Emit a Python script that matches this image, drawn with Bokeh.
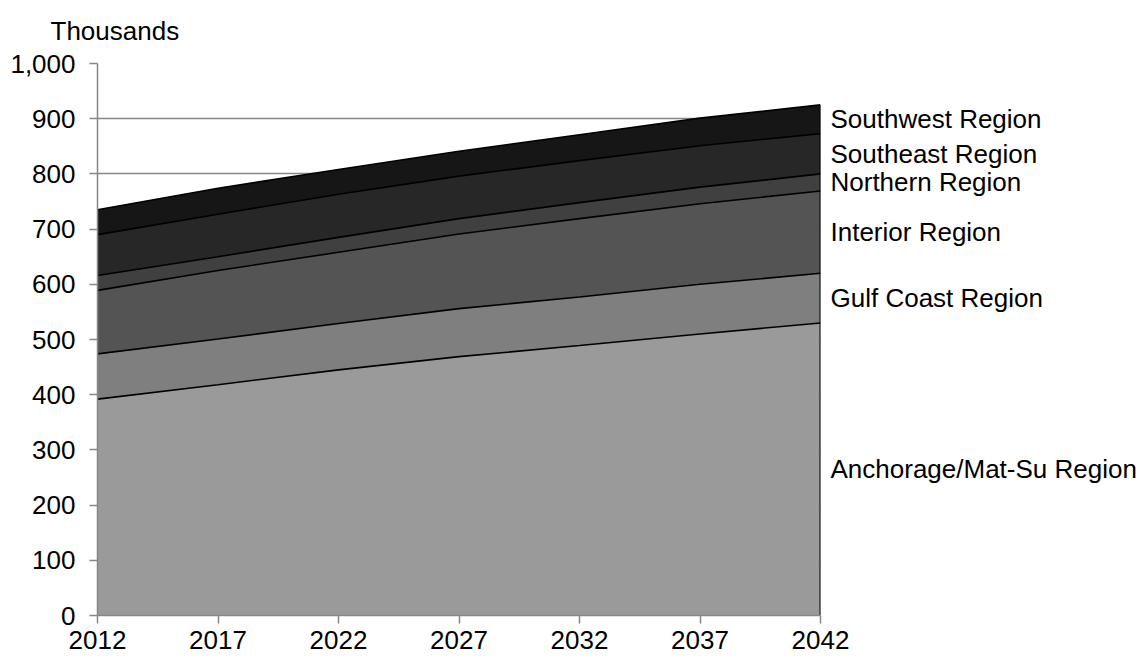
import numpy as np
from bokeh.plotting import figure
from bokeh.models import (ColumnDataSource, FixedTicker, NumeralTickFormatter, Range1d,
                          LinearAxis)
from bokeh.embed import file_html
from bokeh.resources import INLINE

# ---- data (thousands of people) ----
years = [2012, 2017, 2022, 2027, 2032, 2037, 2042]
anchorage = [392, 418, 445, 469, 489, 510, 530]
gulf_coast = [82, 83, 84, 87, 88, 90, 90]
interior = [115, 124, 129, 135, 142, 146, 149]
northern = [27, 25, 27, 28, 29, 30, 31]
southeast = [74, 77, 78, 77, 76, 75, 73]
southwest = [45, 47, 45, 45, 47, 50, 52]

series_keys = ["anchorage", "gulf", "interior", "northern", "southeast", "southwest"]
series_names = ["Anchorage/Mat-Su Region", "Gulf Coast Region", "Interior Region",
                "Northern Region", "Southeast Region", "Southwest Region"]
series_vals = [anchorage, gulf_coast, interior, northern, southeast, southwest]
colors = ["#9a9a9a", "#7f7f7f", "#545454", "#404040", "#272727", "#161616"]
y_ticks = list(range(0, 1001, 100))

FONT = "Liberation Sans"

data = {"year": years}
for k, v in zip(series_keys, series_vals):
    data[k] = v
src = ColumnDataSource(data)

p = figure(width=1146, height=659, output_backend="svg", toolbar_location=None,
           x_range=Range1d(years[0], years[-1]), y_range=Range1d(0, 1000),
           min_border_left=97, min_border_right=326, min_border_top=63, min_border_bottom=44)
p.outline_line_color = None
p.background_fill_color = "white"
p.border_fill_color = "white"

# title ("Thousands")
p.title.text = "Thousands"
p.title.align = "left"
p.title.vertical_align = "top"
p.title.offset = -47
p.title.text_font = FONT
p.title.text_font_size = "26px"
p.title.text_font_style = "normal"
p.title.text_color = "black"
p.title.standoff = 31

p.varea_stack(series_keys, x="year", source=src, color=colors)
p.vline_stack(series_keys, x="year", source=src, line_color="black", line_width=1.6)

totals = np.sum(np.array(series_vals), axis=0)
p.segment(x0=[years[-1]], y0=[0], x1=[years[-1]], y1=[totals[-1]], line_color="black", line_width=2)

# axes
p.xaxis.ticker = FixedTicker(ticks=years)
p.xaxis.formatter = NumeralTickFormatter(format="0")
p.yaxis.ticker = FixedTicker(ticks=y_ticks)
p.yaxis.formatter = NumeralTickFormatter(format="0,0")
for ax in (p.xaxis, p.yaxis):
    ax.axis_line_color = "#868686"
    ax.axis_line_width = 1.5
    ax.major_tick_line_color = "#868686"
    ax.major_tick_line_width = 1.5
    ax.major_tick_out = 8
    ax.major_tick_in = 0
    ax.minor_tick_line_color = None
    ax.major_label_text_font = FONT
    ax.major_label_text_font_size = "26px"
    ax.major_label_text_color = "black"
p.yaxis.major_label_standoff = 14
p.xaxis.major_label_standoff = 7

p.xgrid.grid_line_color = None
p.ygrid.grid_line_color = "#868686"
p.ygrid.grid_line_width = 1.5

# end-of-series labels: a right axis whose ticks sit at each band's middle at the last year
cum = np.cumsum(np.array(series_vals), axis=0)
mids = []
overrides = {}
for i, name in enumerate(series_names):
    lo = 0.0 if i == 0 else float(cum[i - 1][-1])
    hi = float(cum[i][-1])
    m = (lo + hi) / 2.0
    mids.append(m)
    overrides[m] = name

rax = LinearAxis(ticker=FixedTicker(ticks=mids), major_label_overrides=overrides)
rax.axis_line_color = None
rax.major_tick_line_color = None
rax.minor_tick_line_color = None
rax.major_tick_out = 0
rax.major_tick_in = 0
rax.major_label_standoff = 10
rax.major_label_text_font = FONT
rax.major_label_text_font_size = "26px"
rax.major_label_text_color = "black"
p.add_layout(rax, "right")

open("out.html", "w").write(file_html(p, INLINE))
